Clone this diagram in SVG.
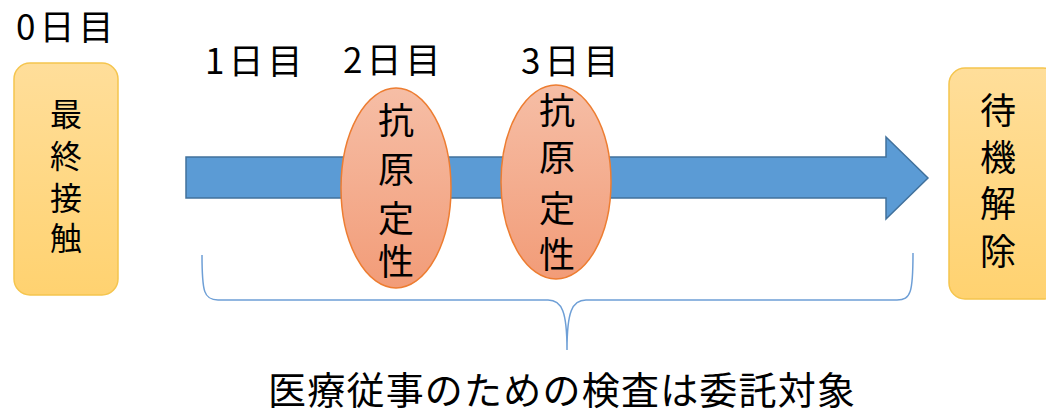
<svg xmlns="http://www.w3.org/2000/svg" width="1046" height="411" viewBox="0 0 1046 411">
<style>
.t{font-family:"Noto Sans CJK JP","Noto Sans CJK SC",sans-serif;fill:#000;}
.day{font-size:35px;letter-spacing:4px;}
.box{fill:url(#gBox);stroke:#F5C54E;stroke-width:1.5;}
.ell{fill:url(#gEll);stroke:#ED7D31;stroke-width:1.5;}
.vt{font-size:32px;text-anchor:middle;}
.vt2{font-size:36px;text-anchor:middle;}
</style>
<defs>
<linearGradient id="gBox" x1="0" y1="0" x2="0" y2="1">
<stop offset="0" stop-color="#FFDE9A"/>
<stop offset="1" stop-color="#FFD270"/>
</linearGradient>
<linearGradient id="gEll" x1="0" y1="0" x2="0" y2="1">
<stop offset="0" stop-color="#F6BEA6"/>
<stop offset="1" stop-color="#F29C78"/>
</linearGradient>
</defs>
<rect width="1046" height="411" fill="#fff"/>
<g id="connectors">
<polygon points="186,157 886,157 886,137 928,178 886,219 886,198 186,198" fill="#5B9BD5" stroke="#41719C" stroke-width="1.5"/>
<path d="M202 255 C202 292 204 300 218 300 L548 300 C562 300 567 312 567 350 C567 312 572 300 586 300 L897 300 C911 300 913 292 913 253" fill="none" stroke="#6E9FD6" stroke-width="1.5"/>
</g>
<g id="day0"><text class="t day" x="16" y="40">0日目</text></g>
<g id="day1"><text class="t day" x="205" y="74">1日目</text></g>
<g id="day2"><text class="t day" x="343" y="73">2日目</text></g>
<g id="day3"><text class="t day" x="521" y="74">3日目</text></g>
<g id="last-contact">
<rect class="box" x="14" y="63" width="104" height="232" rx="16"/>
<text class="t vt" x="66" y="126">最</text>
<text class="t vt" x="66" y="168">終</text>
<text class="t vt" x="66" y="210">接</text>
<text class="t vt" x="66" y="250">触</text>
</g>
<g id="release">
<rect class="box" x="949" y="68" width="110" height="231" rx="16"/>
<text class="t vt2" x="998" y="124">待</text>
<text class="t vt2" x="998" y="171">機</text>
<text class="t vt2" x="998" y="217">解</text>
<text class="t vt2" x="998" y="265">除</text>
</g>
<g id="antigen2">
<ellipse class="ell" cx="396" cy="188" rx="55" ry="100"/>
<text class="t vt2" x="396" y="134">抗</text>
<text class="t vt2" x="396" y="183">原</text>
<text class="t vt2" x="396" y="232">定</text>
<text class="t vt2" x="396" y="275">性</text>
</g>
<g id="antigen3">
<ellipse class="ell" cx="556" cy="182" rx="55" ry="97"/>
<text class="t vt2" x="557" y="124">抗</text>
<text class="t vt2" x="557" y="171">原</text>
<text class="t vt2" x="557" y="222">定</text>
<text class="t vt2" x="557" y="268">性</text>
</g>
<g id="note"><text class="t" x="268" y="404" font-size="38" textLength="587" lengthAdjust="spacing">医療従事のための検査は委託対象</text></g>
</svg>
